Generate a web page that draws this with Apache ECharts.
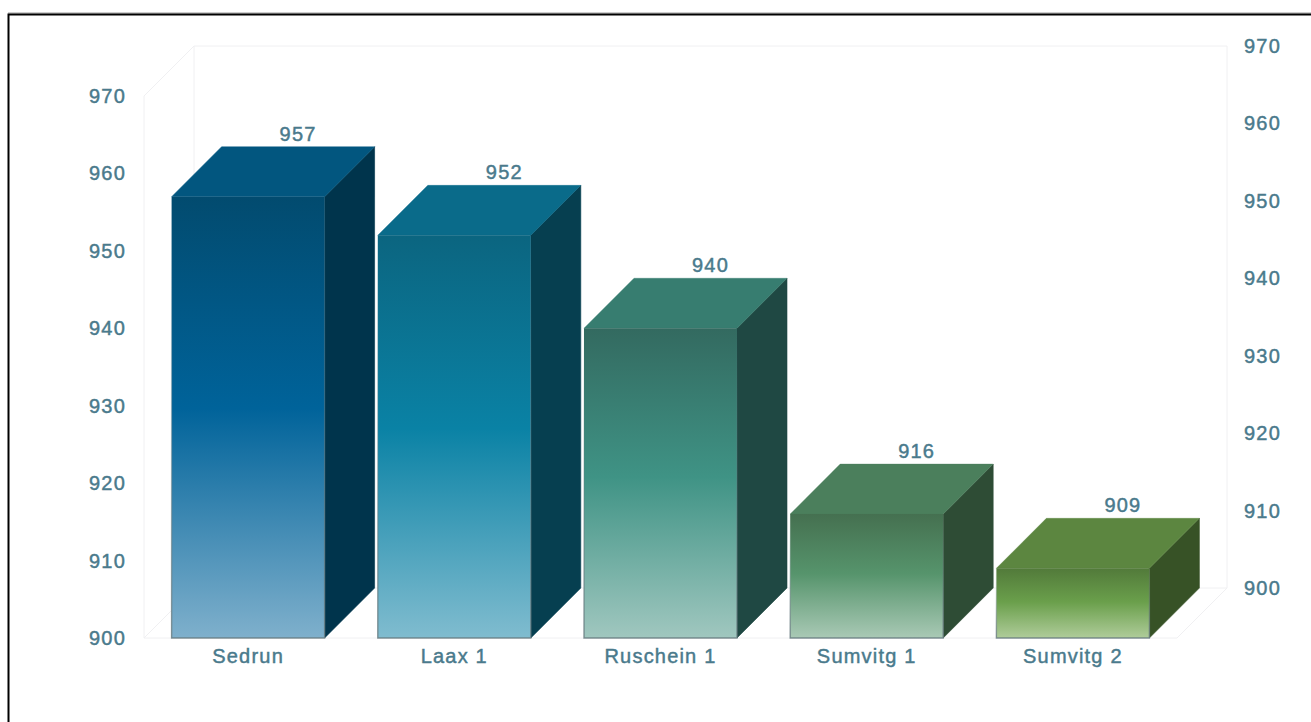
<!DOCTYPE html>
<html><head><meta charset="utf-8">
<style>
html,body{margin:0;padding:0;background:#fff;overflow:hidden}
#c{width:1311px;height:722px}
svg text{letter-spacing:1.2px;stroke:#4a7a8c;stroke-width:0.45px}
</style>
<script src="https://cdn.jsdelivr.net/npm/echarts@6/dist/echarts.min.js"></script>
</head><body><div id="c"></div>
<script>
const categories = ['Sedrun','Laax 1','Ruschein 1','Sumvitg 1','Sumvitg 2'];
const values = [957,952,940,916,909];
const axisMin = 900, axisMax = 970, axisStep = 10;
const frontTop = ['#024b6f','#0b6580','#336a60','#457050','#527a3a'];
const frontMid = ['#00639a','#0a82a5','#3f9385','#56946c','#6a9f4b'];
const frontLow = ['#7fb0cc','#80bccf','#a0c7bf','#a9c9b5','#afcc9a'];
const topFace  = ['#02567f','#0a6b8a','#377d70','#4b7f5c','#5c8640'];
const sideFace = ['#00344c','#063f50','#1f4843','#2e4c35','#375226'];
const textColor = '#4a7a8c', wallColor = '#f0f0f2';
const depth = 50, font = 'Liberation Sans, Arial, sans-serif', fontSize = 20;
const labelStyle = {color:textColor,fontSize,fontFamily:font};

function renderBar(params, api){
  const i = api.value(0), v = api.value(1);
  const p = api.coord([i, v]), b = api.coord([i, axisMin]);
  const w = api.size([1,0])[0]*0.742;
  const l = p[0]-w/2, r = p[0]+w/2, t = p[1], bot = b[1];
  const fill = {type:'linear',x:0,y:0,x2:0,y2:1,colorStops:[
    {offset:0,color:frontTop[i]},{offset:0.48,color:frontMid[i]},{offset:1,color:frontLow[i]}]};
  const edge = {type:'linear',x:0,y:0,x2:0,y2:1,colorStops:[
    {offset:0,color:'rgba(100,120,125,0)'},{offset:0.5,color:'rgba(100,120,125,0.35)'},{offset:1,color:'rgba(100,120,125,0.8)'}]};
  return {type:'group',children:[
    {type:'polygon',shape:{points:[[r,t],[r+depth,t-depth],[r+depth,bot-depth],[r,bot]]},
     style:{fill:sideFace[i],stroke:sideFace[i],lineWidth:0.6}},
    {type:'polygon',shape:{points:[[l,t],[l+depth,t-depth],[r+depth,t-depth],[r,t]]},
     style:{fill:topFace[i],stroke:topFace[i],lineWidth:0.4}},
    {type:'rect',shape:{x:l,y:t,width:w,height:bot-t},
     style:{fill,stroke:edge,lineWidth:1.4}},
    {type:'text',x:p[0]+depth,y:t-depth-13,
     style:{text:String(v),fill:textColor,font:fontSize+'px '+font,align:'center',verticalAlign:'middle'}}
  ]};
}
function renderWalls(params, api){
  const c = params.coordSys, x0=c.x, y0=c.y, x1=c.x+c.width, y1=c.y+c.height;
  const ln=(a,b,d,e)=>({type:'line',shape:{x1:a,y1:b,x2:d,y2:e},style:{stroke:wallColor,lineWidth:1}});
  return {type:'group',children:[
    ln(x0-depth,y0+depth,x0,y0), ln(x0-depth,y1+depth,x0,y1), ln(x1-depth,y1+depth,x1,y1),
    ln(x0-depth,y1+depth,x1-depth,y1+depth), ln(x0-depth,y0+depth,x0-depth,y1+depth)
  ]};
}
const chart = echarts.init(document.getElementById('c'),null,{renderer:'svg'});
chart.setOption({
  animation:false, backgroundColor:'#fff',
  graphic:[
    {type:'polyline',shape:{points:[[8.5,722],[8.5,14.5],[1311,14.5]]},style:{stroke:'#000',lineWidth:2,fill:'none'},silent:true,z:10},
    {type:'line',shape:{x1:8,y1:13,x2:1311,y2:13},style:{stroke:'#9a9a9a',lineWidth:1},silent:true,z:9}
  ],
  grid:[
    {left:145,top:96,width:1031,height:542},
    {left:194,top:46,width:1033,height:542,show:true,borderColor:wallColor,borderWidth:1,backgroundColor:'transparent'}
  ],
  xAxis:[
    {type:'category',gridIndex:0,data:categories,axisTick:{show:false},
     axisLine:{show:false},axisLabel:{...labelStyle,margin:8},splitLine:{show:false}},
    {type:'category',gridIndex:1,data:categories,show:false}
  ],
  yAxis:[
    {type:'value',gridIndex:0,min:axisMin,max:axisMax,interval:axisStep,axisTick:{show:false},
     axisLine:{show:false},axisLabel:{...labelStyle,margin:19},splitLine:{show:false}},
    {type:'value',gridIndex:1,position:'right',min:axisMin,max:axisMax,interval:axisStep,axisTick:{show:false},
     axisLine:{show:false},axisLabel:{...labelStyle,margin:17},splitLine:{show:false}}
  ],
  series:[
    {type:'custom',xAxisIndex:1,yAxisIndex:1,renderItem:renderWalls,data:[[0,axisMin]],z:1,silent:true,clip:false},
    {type:'custom',xAxisIndex:0,yAxisIndex:0,renderItem:renderBar,z:2,silent:true,clip:false,
     encode:{x:0,y:1},data:values.map((v,i)=>[i,v])}
  ]
});
</script></body></html>
